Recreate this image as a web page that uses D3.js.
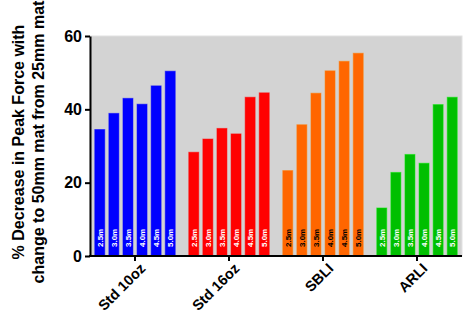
<!DOCTYPE html>
<html>
<head>
<meta charset="utf-8">
<script src="https://cdn.jsdelivr.net/npm/d3@7"></script>
<style>
  html, body { margin: 0; padding: 0; background: #fff; }
  svg { display: block; font-family: Arial, "Liberation Sans", sans-serif; }
</style>
</head>
<body>
<svg id="chart" width="472" height="315"></svg>
<script>
const groups = ["Std 10oz", "Std 16oz", "SBLI", "ARLI"];
const lengths = ["2.5m", "3.0m", "3.5m", "4.0m", "4.5m", "5.0m"];
const std10 = [34.5, 38.9, 43.0, 41.4, 46.4, 50.4];
const std16 = [28.3, 31.9, 34.8, 33.3, 43.3, 44.5];
const sbli = [23.3, 35.8, 44.4, 50.5, 53.1, 55.3];
const arli = [13.1, 22.8, 27.7, 25.3, 41.3, 43.3];
const groupColors = ["#0000ff", "#ff0000", "#ff6600", "#00bf00"];
const labelColors = ["#ffffff", "#ffffff", "#000000", "#ffffff"];
const yTicks = [0, 20, 40, 60];

const seriesValues = [std10, std16, sbli, arli];
const svg = d3.select("#chart");

const plotLeft = 90, plotRight = 462, plotTop = 36, plotBottom = 256;

const y = d3.scaleLinear().domain([0, 60]).range([plotBottom, plotTop]);
const x0 = d3.scaleBand().domain(groups).range([88, 464]).paddingInner(0).paddingOuter(0);
const x1 = d3.scaleBand().domain(lengths).range([0, x0.bandwidth()]).paddingInner(0.29).paddingOuter(0.48);

// background
svg.append("rect")
  .attr("x", plotLeft).attr("y", plotTop)
  .attr("width", plotRight - plotLeft).attr("height", plotBottom - plotTop)
  .attr("fill", "#d3d3d3")
  .attr("stroke", "#e2e2e2").attr("stroke-width", 1);

// bars
groups.forEach((g, gi) => {
  const gg = svg.append("g").attr("transform", `translate(${x0(g)},0)`);
  const data = lengths.map((l, i) => ({ l, v: seriesValues[gi][i] }));
  gg.selectAll("rect").data(data).enter().append("rect")
    .attr("x", d => x1(d.l))
    .attr("y", d => y(d.v))
    .attr("width", x1.bandwidth())
    .attr("height", d => y(0) - y(d.v))
    .attr("fill", groupColors[gi])
    .attr("stroke", d3.color(groupColors[gi]).brighter(0.6))
    .attr("stroke-opacity", 0.5)
    .attr("stroke-width", 1);
  gg.selectAll("text").data(data).enter().append("text")
    .attr("transform", d => `translate(${x1(d.l) + x1.bandwidth() / 2 + 3},${plotBottom - 9}) rotate(-90)`)
    .attr("text-anchor", "start")
    .attr("font-size", 8)
    .attr("font-weight", "bold")
    .attr("fill", labelColors[gi])
    .text(d => d.l);
});

// y axis
const yAxis = svg.append("g")
  .attr("transform", `translate(${plotLeft},0)`)
  .call(d3.axisLeft(y).tickValues(yTicks).tickSize(5).tickSizeOuter(0).tickPadding(3));
yAxis.select(".domain").attr("stroke", "#000").attr("stroke-width", 2);
yAxis.selectAll(".tick line").attr("stroke", "#000").attr("stroke-width", 2);
yAxis.selectAll(".tick text")
  .attr("font-size", 16).attr("font-weight", "bold").attr("fill", "#000")
  .attr("font-family", "Arial, 'Liberation Sans', sans-serif");

// x axis
const xAxis = svg.append("g")
  .attr("transform", `translate(0,${plotBottom})`)
  .call(d3.axisBottom(x0).tickSize(5).tickSizeOuter(0).tickPadding(4));
xAxis.select(".domain").attr("d", `M${plotLeft - 1},0H${plotRight}`).attr("stroke", "#000").attr("stroke-width", 2);
xAxis.selectAll(".tick line").attr("stroke", "#000").attr("stroke-width", 2);
xAxis.selectAll(".tick text")
  .attr("font-size", 14.5).attr("font-weight", "bold").attr("fill", "#000")
  .attr("font-family", "Arial, 'Liberation Sans', sans-serif")
  .attr("text-anchor", "end")
  .attr("dy", "0")
  .attr("transform", "translate(5,7) rotate(-45)");

// y title
const title = svg.append("text")
  .attr("transform", `translate(24,142) rotate(-90)`)
  .attr("text-anchor", "middle")
  .attr("font-size", 16).attr("font-weight", "bold").attr("fill", "#000");
title.append("tspan").attr("x", 0).attr("dy", 0).text("% Decrease in Peak Force with");
title.append("tspan").attr("x", 0).attr("dy", 20).text("change to 50mm mat from 25mm mat");
</script>
</body>
</html>
